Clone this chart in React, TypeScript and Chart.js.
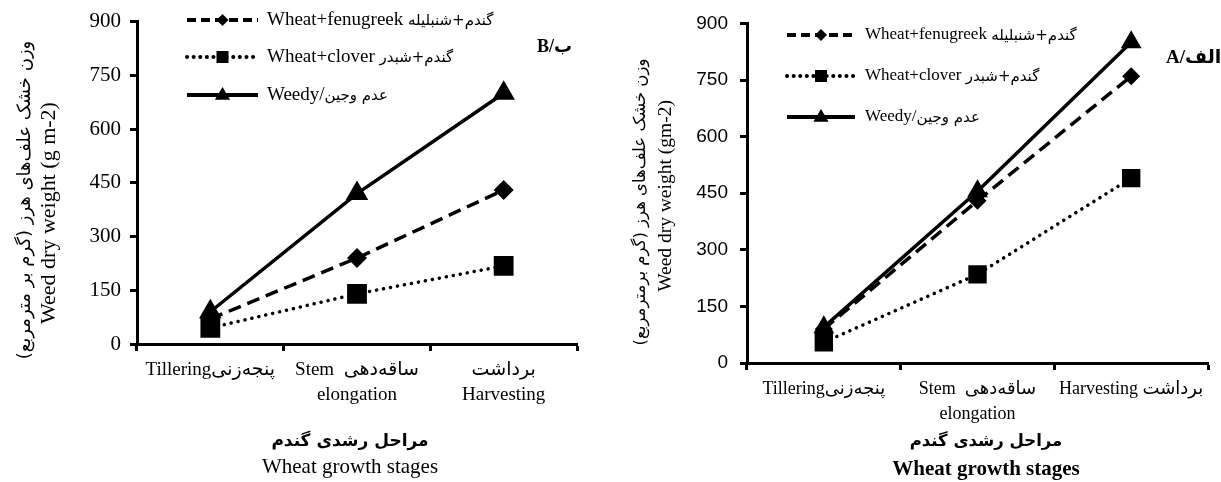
import React, { useEffect, useRef } from "react";
import { Chart, registerables } from "chart.js";

Chart.register(...registerables);

const SERIF = "'Liberation Serif', 'DejaVu Sans', serif";
const SANS = "'Liberation Sans', 'DejaVu Sans', sans-serif";
const FA = "'DejaVu Sans', sans-serif";

// ---- data ----
const stagesB = [["Tilleringپنجەزنی"], ["Stem  ساقەدهی", "elongation"], ["برداشت", "Harvesting"]];
const stagesA = [["Tilleringپنجەزنی"], ["Stem  ساقەدهی", "elongation"], ["Harvesting برداشت"]];

const fenugreekB = [70, 240, 430];
const cloverB = [45, 140, 218];
const weedyB = [90, 420, 700];

const fenugreekA = [90, 430, 760];
const cloverA = [55, 235, 490];
const weedyA = [95, 455, 850];

const yMin = 0;
const yMax = 900;
const yStep = 150;

const seriesEn = ["Wheat+fenugreek ", "Wheat+clover ", "Weedy/"];
const seriesFa = ["گندم+شنبلیله", "گندم+شبدر", "عدم وجین"];

const yTitleB = ["وزن خشک علف‌های هرز (گرم بر مترمربع)", "Weed dry weight (g m-2)"];
const yTitleA = ["وزن خشک علف‌های هرز (گرم برمترمربع)", "Weed dry weight (gm-2)"];
const xTitleFa = "مراحل رشدی گندم";
const xTitleEn = "Wheat growth stages";
const panelLabelB = "B/ب";
const panelLabelA = "A/الف";

// ---- panel specs (layout only) ----
const specB = {
  W: 610, H: 482, left: 0,
  labels: stagesB, fen: fenugreekB, clo: cloverB, wee: weedyB,
  axisX: 137, top: 20, bottom: 344, padRight: 33,
  yTickFamily: SERIF, yTickSize: 21, yTickPad: 9,
  xTickSize: 19, xTickPad: 7, xLineHeight: 1.3,
  rDiamond: 10, rSquare: 14, rTri: 13,
  legend: { x0: 187, x1: 258, tx: 267, rows: [20, 57, 95], en: 19, fa: 15 },
  yTitle: yTitleB, yFa: { x: 25, y: 200, size: 18 }, yEn: { x: 49, y: 213, size: 22 },
  xTitle: { cx: 350, yFa: 442, yEn: 467, faSize: 17, enSize: 21, enBold: false },
  panel: { text: panelLabelB, x: 537, y: 47, size: 18 },
};

const specA = {
  W: 611, H: 482, left: 610,
  labels: stagesA, fen: fenugreekA, clo: cloverA, wee: weedyA,
  axisX: 137, top: 13, bottom: 363, padRight: 9,
  yTickFamily: SANS, yTickSize: 19, yTickPad: 12,
  xTickSize: 18, xTickPad: 7, xLineHeight: 1.38,
  rDiamond: 9, rSquare: 13, rTri: 12,
  legend: { x0: 177, x1: 245, tx: 255, rows: [35, 76, 117], en: 17, fa: 15 },
  yTitle: yTitleA, yFa: { x: 31, y: 202, size: 16.5 }, yEn: { x: 56, y: 196, size: 19.5 },
  xTitle: { cx: 376, yFa: 442, yEn: 470, faSize: 16.5, enSize: 21, enBold: true },
  panel: { text: panelLabelA, x: 556, y: 58, size: 19 },
};

function drawMarker(ctx: CanvasRenderingContext2D, style: string, x: number, y: number, r: number) {
  ctx.beginPath();
  if (style === "rectRot") {
    ctx.moveTo(x, y - r);
    ctx.lineTo(x + r, y);
    ctx.lineTo(x, y + r);
    ctx.lineTo(x - r, y);
  } else if (style === "rect") {
    ctx.rect(x - r, y - r, 2 * r, 2 * r);
  } else {
    ctx.moveTo(x, y - r);
    ctx.lineTo(x + r * 0.95, y + r * 0.6);
    ctx.lineTo(x - r * 0.95, y + r * 0.6);
  }
  ctx.closePath();
  ctx.fill();
}

function makeDecor(spec: any) {
  return {
    id: "decor",
    afterDraw(chart: any) {
      const ctx: CanvasRenderingContext2D = chart.ctx;
      ctx.save();
      ctx.fillStyle = "#000";
      ctx.strokeStyle = "#000";

      // legend
      const L = spec.legend;
      const styles = [
        { dash: [9, 5], cap: "butt", w: 4, marker: "rectRot", r: 6 },
        { dash: [0.1, 6.5], cap: "round", w: 4, marker: "rect", r: 6 },
        { dash: [], cap: "butt", w: 4, marker: "triangle", r: 8 },
      ];
      styles.forEach((s, i) => {
        const y = L.rows[i];
        ctx.save();
        ctx.lineWidth = s.w;
        ctx.lineCap = s.cap as CanvasLineCap;
        ctx.setLineDash(s.dash);
        ctx.beginPath();
        ctx.moveTo(L.x0, y);
        ctx.lineTo(L.x1, y);
        ctx.stroke();
        ctx.restore();
        drawMarker(ctx, s.marker, (L.x0 + L.x1) / 2, y, s.r);
        ctx.textBaseline = "middle";
        ctx.textAlign = "left";
        ctx.font = `${L.en}px ${SERIF}`;
        ctx.fillText(seriesEn[i], L.tx, y);
        const w = ctx.measureText(seriesEn[i]).width;
        ctx.font = `${L.fa}px ${FA}`;
        ctx.fillText(seriesFa[i], L.tx + w, y + 1);
      });

      // y title
      const drawRot = (text: string, x: number, y: number, font: string) => {
        ctx.save();
        ctx.translate(x, y);
        ctx.rotate(-Math.PI / 2);
        ctx.textAlign = "center";
        ctx.textBaseline = "middle";
        ctx.font = font;
        ctx.fillText(text, 0, 0);
        ctx.restore();
      };
      drawRot(spec.yTitle[0], spec.yFa.x, spec.yFa.y, `${spec.yFa.size}px ${FA}`);
      drawRot(spec.yTitle[1], spec.yEn.x, spec.yEn.y, `${spec.yEn.size}px ${SERIF}`);

      // x title
      const X = spec.xTitle;
      ctx.textAlign = "center";
      ctx.textBaseline = "middle";
      ctx.font = `bold ${X.faSize}px ${FA}`;
      ctx.fillText(xTitleFa, X.cx, X.yFa);
      ctx.font = `${X.enBold ? "bold " : ""}${X.enSize}px ${SERIF}`;
      ctx.fillText(xTitleEn, X.cx, X.yEn);

      // panel label
      ctx.textAlign = "left";
      ctx.font = `bold ${spec.panel.size}px ${SERIF}`;
      ctx.fillText(spec.panel.text, spec.panel.x, spec.panel.y);

      ctx.restore();
    },
  };
}

function makeConfig(spec: any): any {
  const common = {
    borderColor: "#000",
    backgroundColor: "#000",
    pointBackgroundColor: "#000",
    pointBorderColor: "#000",
    pointBorderWidth: 0,
    borderWidth: 3.5,
    tension: 0,
    fill: false,
  };
  return {
    type: "line",
    data: {
      labels: spec.labels,
      datasets: [
        { ...common, label: seriesEn[0] + seriesFa[0], data: spec.fen, borderDash: [13, 7], pointStyle: "rectRot", pointRadius: spec.rDiamond },
        { ...common, label: seriesEn[1] + seriesFa[1], data: spec.clo, borderDash: [0.1, 7], borderCapStyle: "round", pointStyle: "rect", pointRadius: spec.rSquare },
        { ...common, label: seriesEn[2] + seriesFa[2], data: spec.wee, pointStyle: "triangle", pointRadius: spec.rTri },
      ],
    },
    options: {
      animation: false,
      responsive: false,
      devicePixelRatio: 1,
      layout: { padding: { top: spec.top, right: spec.padRight, left: 0, bottom: 0 } },
      plugins: { legend: { display: false }, tooltip: { enabled: false }, title: { display: false } },
      scales: {
        x: {
          type: "category",
          offset: true,
          grid: { offset: true, drawOnChartArea: false, drawTicks: true, tickLength: 7, tickWidth: 3, tickColor: "#000" },
          border: { display: true, color: "#000", width: 3 },
          ticks: {
            color: "#000",
            font: { family: SERIF, size: spec.xTickSize, lineHeight: spec.xLineHeight },
            padding: spec.xTickPad,
            maxRotation: 0,
            autoSkip: false,
          },
          afterFit: (s: any) => {
            s.height = spec.H - spec.bottom;
          },
        },
        y: {
          min: yMin,
          max: yMax,
          ticks: { stepSize: yStep, color: "#000", font: { family: spec.yTickFamily, size: spec.yTickSize }, padding: spec.yTickPad },
          grid: { drawOnChartArea: false, drawTicks: true, tickLength: 7, tickWidth: 3, tickColor: "#000" },
          border: { display: true, color: "#000", width: 3 },
          afterFit: (s: any) => {
            s.width = spec.axisX;
          },
        },
      },
    },
    plugins: [makeDecor(spec)],
  };
}

function Panel({ spec }: { spec: any }) {
  const ref = useRef<HTMLCanvasElement | null>(null);
  useEffect(() => {
    if (!ref.current) return;
    const chart = new Chart(ref.current, makeConfig(spec));
    return () => chart.destroy();
  }, [spec]);
  return (
    <canvas
      ref={ref}
      width={spec.W}
      height={spec.H}
      style={{ position: "absolute", left: spec.left, top: 0, width: spec.W, height: spec.H }}
    />
  );
}

export default function App() {
  return (
    <div style={{ position: "absolute", left: 0, top: 0, width: 1221, height: 482, background: "#fff", overflow: "hidden" }}>
      <Panel spec={specB} />
      <Panel spec={specA} />
    </div>
  );
}
